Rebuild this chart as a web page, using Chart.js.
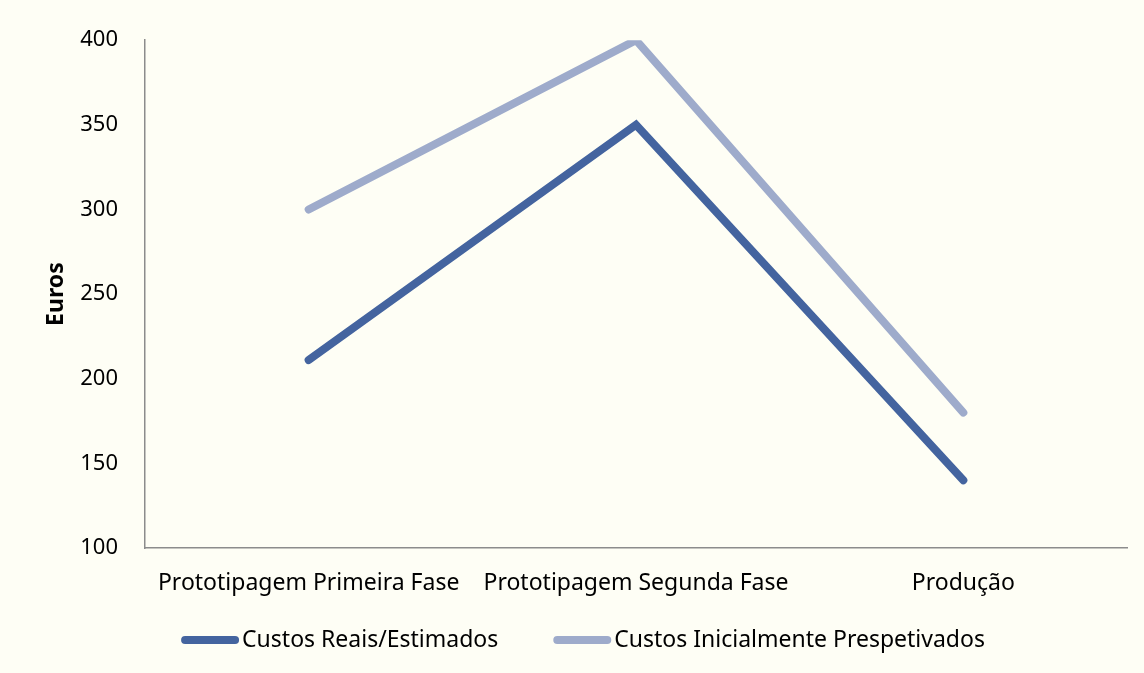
<!DOCTYPE html>
<html>
<head>
<meta charset="utf-8">
<script src="https://cdn.jsdelivr.net/npm/chart.js@4.4.1/dist/chart.umd.min.js"></script>
<style>
  html, body { margin: 0; padding: 0; background: #fefef5; }
  #wrap { width: 1144px; height: 673px; }
</style>
</head>
<body>
<div id="wrap"><canvas id="c" width="1144" height="673"></canvas></div>
<script>
// Project phases and cost series (euros)
const categories = ['Prototipagem Primeira Fase', 'Prototipagem Segunda Fase', 'Produção'];
const custosReais = [211, 350, 140];
const custosPrevistos = [300, 400, 180];
const seriesNames = ['Custos Reais/Estimados', 'Custos Inicialmente Prespetivados'];
const yTicks = { min: 100, max: 400, step: 50 };
const axisTitle = 'Euros';

const FONT = '"Noto Sans", "DejaVu Sans", sans-serif';
const darkBlue = '#44649f';
const lightBlue = '#9eabcb';

// Legend drawn below the axis: a thick rounded line sample followed by the series name
const lineLegend = {
  id: 'lineLegend',
  afterDraw(chart) {
    const ctx = chart.ctx;
    const sample = 58, textGap = 3, itemGap = 55, y = 640, centerX = 583;
    ctx.save();
    ctx.font = '23px ' + FONT;
    const items = chart.data.datasets.map(ds => ({
      color: ds.borderColor,
      text: ds.label,
      w: sample + textGap + ctx.measureText(ds.label).width
    }));
    const total = items.reduce((s, it) => s + it.w, 0) + itemGap * (items.length - 1);
    let x = centerX - total / 2;
    ctx.textBaseline = 'middle';
    ctx.textAlign = 'left';
    ctx.lineCap = 'round';
    ctx.lineWidth = 8;
    items.forEach(it => {
      ctx.strokeStyle = it.color;
      ctx.beginPath();
      ctx.moveTo(x + 4, y);
      ctx.lineTo(x + sample - 4, y);
      ctx.stroke();
      ctx.fillStyle = '#000';
      ctx.fillText(it.text, x + sample + textGap, y);
      x += it.w + itemGap;
    });
    ctx.restore();
  }
};

new Chart(document.getElementById('c'), {
  type: 'line',
  data: {
    labels: categories,
    datasets: [
      {
        label: seriesNames[0],
        data: custosReais,
        borderColor: darkBlue,
        backgroundColor: darkBlue,
        borderWidth: 8,
        borderCapStyle: 'round',
        borderJoinStyle: 'miter',
        pointRadius: 0,
        tension: 0
      },
      {
        label: seriesNames[1],
        data: custosPrevistos,
        borderColor: lightBlue,
        backgroundColor: lightBlue,
        borderWidth: 8,
        borderCapStyle: 'round',
        borderJoinStyle: 'miter',
        pointRadius: 0,
        tension: 0
      }
    ]
  },
  plugins: [lineLegend],
  options: {
    responsive: false,
    animation: false,
    devicePixelRatio: 1,
    layout: { padding: { left: 43, right: 17, top: 25, bottom: 75 } },
    plugins: {
      tooltip: { enabled: false },
      legend: { display: false }
    },
    scales: {
      x: {
        offset: true,
        grid: { display: false, drawTicks: false },
        border: { display: true, color: '#8c8c8c', width: 1.5 },
        ticks: {
          font: { family: FONT, size: 23 },
          color: '#000',
          padding: 22,
          maxRotation: 0,
          autoSkip: false
        },
        afterFit(scale) {
          scale.height = 50;
          scale.paddingLeft = 0;
          scale.paddingRight = 0;
        }
      },
      y: {
        min: yTicks.min,
        max: yTicks.max,
        grid: { display: false, drawTicks: false },
        border: { display: true, color: '#8c8c8c', width: 1.5 },
        ticks: {
          stepSize: yTicks.step,
          font: { family: FONT, size: 22 },
          color: '#000',
          padding: 27
        },
        title: {
          display: true,
          text: axisTitle,
          font: { family: FONT, size: 23, weight: 'bold' },
          color: '#000',
          padding: { top: 0, bottom: 8 }
        },
        afterFit(scale) {
          scale.width = 102;
        }
      }
    }
  }
});
</script>
</body>
</html>
